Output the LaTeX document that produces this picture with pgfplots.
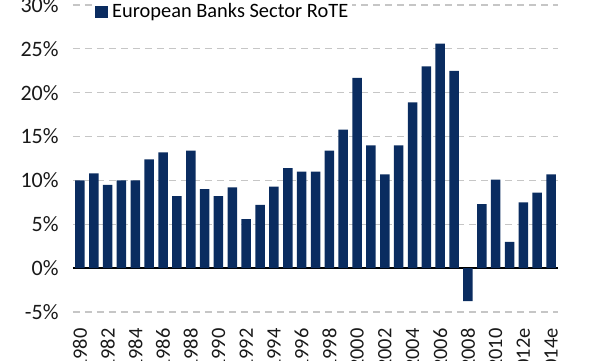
\documentclass[border=0pt]{standalone}
\usepackage{pgfplots}
\pgfplotsset{compat=1.18}
\usepackage{fontspec}
\setmainfont{Carlito}
\definecolor{navy}{RGB}{10,44,96}
\begin{document}
\begin{tikzpicture}
\begin{axis}[
  scale only axis, width=242.5pt, height=153.5pt,
  ybar, bar width=4.75pt,
  xmin=-0.5, xmax=34.5, ymin=-5, ymax=30,
  xtick={0,2,...,34},
  xticklabels={1980,1982,1984,1986,1988,1990,1992,1994,1996,1998,2000,2002,2004,2006,2008,2010,2012e,2014e},
  ytick={-5,5,10,15,20,25,30},
  extra y ticks={0},
  extra y tick style={grid style={solid,black,line width=1pt}},
  yticklabel={\pgfmathprintnumber{\tick}\%},
  /pgf/number format/assume math mode=true,
  ymajorgrids,
  grid style={gray!45, dash pattern=on 3.5pt off 2.5pt, line width=0.6pt},
  axis line style={draw=none},
  major tick length=0pt,
  tick label style={text=black!90},
  yticklabel style={font=\fontsize{11}{13}\selectfont, inner sep=0pt, xshift=-7pt},
  xticklabel style={font=\fontsize{10.2}{12}\selectfont, yshift=-8pt, rotate=90, anchor=east, inner sep=0pt},
  legend style={draw=none, fill=white, inner sep=0pt, font=\fontsize{10.2}{12}\selectfont,
    at={(axis description cs:0,1)}, anchor=west, xshift=11pt, yshift=-3.5pt,
    legend cell align=left},
  legend image code/.code={\fill[navy] (0pt,-3.2pt) rectangle (6.4pt,3.2pt);},
]
\addplot[fill=navy, draw=none] coordinates {
(0,10.0) (1,10.8) (2,9.5) (3,10.0) (4,10.0) (5,12.4) (6,13.2) (7,8.2) (8,13.4) (9,9.0)
(10,8.2) (11,9.2) (12,5.6) (13,7.2) (14,9.3) (15,11.4) (16,11.0) (17,11.0) (18,13.4) (19,15.8)
(20,21.7) (21,14.0) (22,10.7) (23,14.0) (24,18.9) (25,23.0) (26,25.6) (27,22.5) (28,-3.75) (29,7.3)
(30,10.1) (31,3.0) (32,7.5) (33,8.6) (34,10.7)
};
\addlegendentry{European Banks Sector RoTE}
\coordinate (bl) at (rel axis cs:0,0);
\coordinate (tr) at (rel axis cs:1,1);
\end{axis}
\pgfresetboundingbox
\useasboundingbox ([xshift=-36.5pt,yshift=-24pt]bl) rectangle ([xshift=21pt,yshift=2.5pt]tr);
\end{tikzpicture}
\end{document}
